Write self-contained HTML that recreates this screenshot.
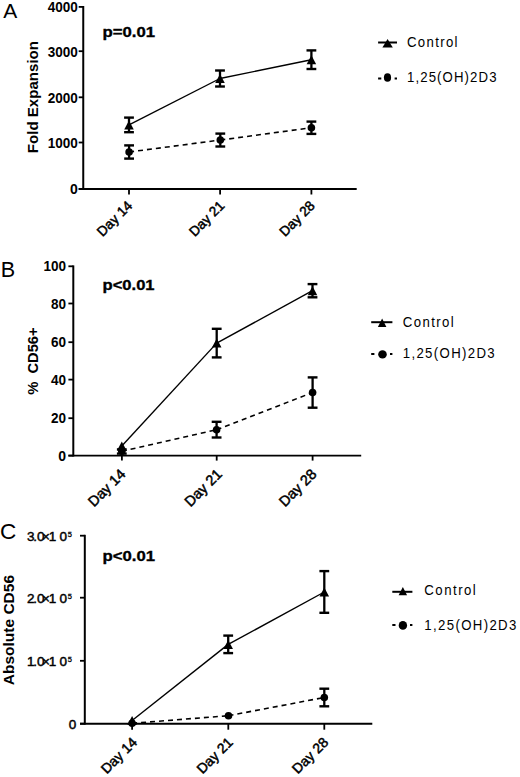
<!DOCTYPE html>
<html><head><meta charset="utf-8"><title>Figure</title>
<style>
html,body{margin:0;padding:0;background:#fff;}
svg{display:block;}
text{font-family:"Liberation Sans", sans-serif;fill:#000;}
</style></head>
<body>
<svg width="520" height="777" viewBox="0 0 520 777">
<rect width="520" height="777" fill="#fff"/>
<text x="3.2" y="17.6" font-size="21">A</text>
<line x1="83.25" y1="6" x2="83.25" y2="189.9" stroke="#000" stroke-width="2.0"/>
<line x1="78.7" y1="189" x2="356.7" y2="189" stroke="#000" stroke-width="1.9"/>
<line x1="78.7" y1="6.9" x2="83.25" y2="6.9" stroke="#000" stroke-width="1.8"/>
<text x="77.8" y="12.3" font-size="14" font-weight="bold" text-anchor="end" textLength="30.12" lengthAdjust="spacingAndGlyphs">4000</text>
<line x1="78.7" y1="51.2" x2="83.25" y2="51.2" stroke="#000" stroke-width="1.8"/>
<text x="77.8" y="57" font-size="14" font-weight="bold" text-anchor="end" textLength="30.12" lengthAdjust="spacingAndGlyphs">3000</text>
<line x1="78.7" y1="97.3" x2="83.25" y2="97.3" stroke="#000" stroke-width="1.8"/>
<text x="77.8" y="103.1" font-size="14" font-weight="bold" text-anchor="end" textLength="30.12" lengthAdjust="spacingAndGlyphs">2000</text>
<line x1="78.7" y1="142.5" x2="83.25" y2="142.5" stroke="#000" stroke-width="1.8"/>
<text x="77.8" y="147.6" font-size="14" font-weight="bold" text-anchor="end" textLength="30.12" lengthAdjust="spacingAndGlyphs">1000</text>
<line x1="78.7" y1="189" x2="83.25" y2="189" stroke="#000" stroke-width="1.8"/>
<text x="77.8" y="194.1" font-size="14" font-weight="bold" text-anchor="end">0</text>
<line x1="129" y1="189" x2="129" y2="194.5" stroke="#000" stroke-width="1.8"/>
<text x="133.2" y="206.5" font-size="13.7" text-anchor="end" transform="rotate(-45 133.2 206.5)" stroke="#000" stroke-width="0.5">Day 14</text>
<line x1="220.1" y1="189" x2="220.1" y2="194.5" stroke="#000" stroke-width="1.8"/>
<text x="225.4" y="206.5" font-size="13.7" text-anchor="end" transform="rotate(-45 225.4 206.5)" stroke="#000" stroke-width="0.5">Day 21</text>
<line x1="311.4" y1="189" x2="311.4" y2="194.5" stroke="#000" stroke-width="1.8"/>
<text x="315.7" y="206.5" font-size="13.7" text-anchor="end" transform="rotate(-45 315.7 206.5)" stroke="#000" stroke-width="0.5">Day 28</text>
<text x="37.9" y="97.1" font-size="14.5" font-weight="bold" text-anchor="middle" textLength="112.2" lengthAdjust="spacingAndGlyphs" transform="rotate(-90 37.9 97.1)">Fold Expansion</text>
<text x="102.6" y="36.5" font-size="15.3" font-weight="bold" textLength="52.5" lengthAdjust="spacingAndGlyphs" stroke="#000" stroke-width="0.35">p=0.01</text>
<line x1="129" y1="124.9" x2="220" y2="78.5" stroke="#000" stroke-width="1.4"/>
<line x1="220" y1="78.5" x2="311.4" y2="59.7" stroke="#000" stroke-width="1.4"/>
<line x1="129.1" y1="152" x2="220.3" y2="140.05" stroke="#000" stroke-width="1.6" stroke-dasharray="5 4"/>
<line x1="220.3" y1="140.05" x2="311.4" y2="127.75" stroke="#000" stroke-width="1.6" stroke-dasharray="5 4"/>
<line x1="129" y1="117.6" x2="129" y2="132.2" stroke="#000" stroke-width="2.3"/>
<line x1="124.1" y1="117.6" x2="133.9" y2="117.6" stroke="#000" stroke-width="2.4"/>
<line x1="124.1" y1="132.2" x2="133.9" y2="132.2" stroke="#000" stroke-width="2.4"/>
<line x1="220" y1="70.5" x2="220" y2="86.5" stroke="#000" stroke-width="2.3"/>
<line x1="215.1" y1="70.5" x2="224.9" y2="70.5" stroke="#000" stroke-width="2.4"/>
<line x1="215.1" y1="86.5" x2="224.9" y2="86.5" stroke="#000" stroke-width="2.4"/>
<line x1="311.4" y1="50.4" x2="311.4" y2="69" stroke="#000" stroke-width="2.3"/>
<line x1="306.5" y1="50.4" x2="316.3" y2="50.4" stroke="#000" stroke-width="2.4"/>
<line x1="306.5" y1="69" x2="316.3" y2="69" stroke="#000" stroke-width="2.4"/>
<line x1="129.1" y1="145.4" x2="129.1" y2="158.6" stroke="#000" stroke-width="2.3"/>
<line x1="124.2" y1="145.4" x2="134" y2="145.4" stroke="#000" stroke-width="2.4"/>
<line x1="124.2" y1="158.6" x2="134" y2="158.6" stroke="#000" stroke-width="2.4"/>
<line x1="220.3" y1="133.6" x2="220.3" y2="146.5" stroke="#000" stroke-width="2.3"/>
<line x1="215.4" y1="133.6" x2="225.2" y2="133.6" stroke="#000" stroke-width="2.4"/>
<line x1="215.4" y1="146.5" x2="225.2" y2="146.5" stroke="#000" stroke-width="2.4"/>
<line x1="311.4" y1="121.6" x2="311.4" y2="133.9" stroke="#000" stroke-width="2.3"/>
<line x1="306.5" y1="121.6" x2="316.3" y2="121.6" stroke="#000" stroke-width="2.4"/>
<line x1="306.5" y1="133.9" x2="316.3" y2="133.9" stroke="#000" stroke-width="2.4"/>
<polygon points="129,120.4 124.25,129.4 133.75,129.4" fill="#000"/>
<polygon points="220,74 215.25,83 224.75,83" fill="#000"/>
<polygon points="311.4,55.2 306.65,64.2 316.15,64.2" fill="#000"/>
<ellipse cx="129.1" cy="152" rx="3.8" ry="3.8" fill="#000"/>
<ellipse cx="220.3" cy="140.05" rx="3.8" ry="3.8" fill="#000"/>
<ellipse cx="311.4" cy="127.75" rx="3.8" ry="3.8" fill="#000"/>
<line x1="378.1" y1="42.5" x2="397" y2="42.5" stroke="#000" stroke-width="2"/>
<polygon points="387.6,39.1 382.4,47.6 392.8,47.6" fill="#000"/>
<line x1="378.1" y1="78.5" x2="381.3" y2="78.5" stroke="#000" stroke-width="2"/>
<line x1="394.6" y1="78.5" x2="397" y2="78.5" stroke="#000" stroke-width="2"/>
<ellipse cx="387.5" cy="77.5" rx="3.6" ry="4.3" fill="#000"/>
<text x="0" y="0" font-size="15" textLength="57.39" lengthAdjust="spacing" transform="translate(407.0 47.4) scale(0.88 1)">Control</text>
<text x="0" y="0" font-size="15" textLength="101.70" lengthAdjust="spacing" transform="translate(407.0 81.5) scale(0.88 1)">1,25(OH)2D3</text>
<text x="0.7" y="277.3" font-size="21.6">B</text>
<line x1="73.3" y1="265.4" x2="73.3" y2="456.5" stroke="#000" stroke-width="2.0"/>
<line x1="68.4" y1="455.6" x2="361.2" y2="455.6" stroke="#000" stroke-width="1.9"/>
<line x1="68.4" y1="266.3" x2="73.3" y2="266.3" stroke="#000" stroke-width="1.8"/>
<text x="66" y="271.4" font-size="14" font-weight="bold" text-anchor="end" textLength="22.59" lengthAdjust="spacingAndGlyphs">100</text>
<line x1="68.4" y1="303.5" x2="73.3" y2="303.5" stroke="#000" stroke-width="1.8"/>
<text x="66" y="308.6" font-size="14" font-weight="bold" text-anchor="end" textLength="15.06" lengthAdjust="spacingAndGlyphs">80</text>
<line x1="68.4" y1="342.2" x2="73.3" y2="342.2" stroke="#000" stroke-width="1.8"/>
<text x="66" y="347.3" font-size="14" font-weight="bold" text-anchor="end" textLength="15.06" lengthAdjust="spacingAndGlyphs">60</text>
<line x1="68.4" y1="379.6" x2="73.3" y2="379.6" stroke="#000" stroke-width="1.8"/>
<text x="66" y="384.7" font-size="14" font-weight="bold" text-anchor="end" textLength="15.06" lengthAdjust="spacingAndGlyphs">40</text>
<line x1="68.4" y1="418.2" x2="73.3" y2="418.2" stroke="#000" stroke-width="1.8"/>
<text x="66" y="423.3" font-size="14" font-weight="bold" text-anchor="end" textLength="15.06" lengthAdjust="spacingAndGlyphs">20</text>
<line x1="68.4" y1="455.6" x2="73.3" y2="455.6" stroke="#000" stroke-width="1.8"/>
<text x="66" y="460.7" font-size="14" font-weight="bold" text-anchor="end">0</text>
<line x1="121.9" y1="455.6" x2="121.9" y2="460.6" stroke="#000" stroke-width="1.8"/>
<text x="126.5" y="475" font-size="14.5" text-anchor="end" transform="rotate(-45 126.5 475)" stroke="#000" stroke-width="0.5">Day 14</text>
<line x1="216.7" y1="455.6" x2="216.7" y2="460.6" stroke="#000" stroke-width="1.8"/>
<text x="222.9" y="475" font-size="14.5" text-anchor="end" transform="rotate(-45 222.9 475)" stroke="#000" stroke-width="0.5">Day 21</text>
<line x1="312.6" y1="455.6" x2="312.6" y2="460.6" stroke="#000" stroke-width="1.8"/>
<text x="317.4" y="475" font-size="14.5" text-anchor="end" transform="rotate(-45 317.4 475)" stroke="#000" stroke-width="0.5">Day 28</text>
<text x="37.6" y="361.1" font-size="14.5" font-weight="bold" text-anchor="middle" textLength="67.4" lengthAdjust="spacingAndGlyphs" transform="rotate(-90 37.6 361.1)">%  CD56+</text>
<text x="102.6" y="289.7" font-size="15.3" font-weight="bold" textLength="52" lengthAdjust="spacingAndGlyphs" stroke="#000" stroke-width="0.35">p&lt;0.01</text>
<line x1="121.8" y1="446" x2="216.7" y2="343.1" stroke="#000" stroke-width="1.4"/>
<line x1="216.7" y1="343.1" x2="312.5" y2="290.7" stroke="#000" stroke-width="1.4"/>
<line x1="121.8" y1="451.3" x2="216.6" y2="429.7" stroke="#000" stroke-width="1.6" stroke-dasharray="5 4"/>
<line x1="216.6" y1="429.7" x2="312.6" y2="392.5" stroke="#000" stroke-width="1.6" stroke-dasharray="5 4"/>
<line x1="216.7" y1="328.8" x2="216.7" y2="357.4" stroke="#000" stroke-width="2.3"/>
<line x1="211.8" y1="328.8" x2="221.6" y2="328.8" stroke="#000" stroke-width="2.4"/>
<line x1="211.8" y1="357.4" x2="221.6" y2="357.4" stroke="#000" stroke-width="2.4"/>
<line x1="312.5" y1="284.1" x2="312.5" y2="297.3" stroke="#000" stroke-width="2.3"/>
<line x1="307.6" y1="284.1" x2="317.4" y2="284.1" stroke="#000" stroke-width="2.4"/>
<line x1="307.6" y1="297.3" x2="317.4" y2="297.3" stroke="#000" stroke-width="2.4"/>
<line x1="121.8" y1="449.4" x2="121.8" y2="453.6" stroke="#000" stroke-width="2.3"/>
<line x1="116.9" y1="449.4" x2="126.7" y2="449.4" stroke="#000" stroke-width="2.4"/>
<line x1="116.9" y1="453.6" x2="126.7" y2="453.6" stroke="#000" stroke-width="2.4"/>
<line x1="216.6" y1="421.8" x2="216.6" y2="437.5" stroke="#000" stroke-width="2.3"/>
<line x1="211.7" y1="421.8" x2="221.5" y2="421.8" stroke="#000" stroke-width="2.4"/>
<line x1="211.7" y1="437.5" x2="221.5" y2="437.5" stroke="#000" stroke-width="2.4"/>
<line x1="312.6" y1="377.4" x2="312.6" y2="407.7" stroke="#000" stroke-width="2.3"/>
<line x1="307.7" y1="377.4" x2="317.5" y2="377.4" stroke="#000" stroke-width="2.4"/>
<line x1="307.7" y1="407.7" x2="317.5" y2="407.7" stroke="#000" stroke-width="2.4"/>
<polygon points="121.8,441.5 117.05,450.5 126.55,450.5" fill="#000"/>
<polygon points="216.7,338.6 211.95,347.6 221.45,347.6" fill="#000"/>
<polygon points="312.5,286.2 307.75,295.2 317.25,295.2" fill="#000"/>
<ellipse cx="121.8" cy="451.3" rx="3.8" ry="3.8" fill="#000"/>
<ellipse cx="216.6" cy="429.7" rx="3.8" ry="3.8" fill="#000"/>
<ellipse cx="312.6" cy="392.5" rx="3.8" ry="3.8" fill="#000"/>
<line x1="371.2" y1="322.2" x2="392.4" y2="322.2" stroke="#000" stroke-width="2"/>
<polygon points="382.1,318.5 377.85,327 386.35,327" fill="#000"/>
<line x1="371.2" y1="354" x2="374.4" y2="354" stroke="#000" stroke-width="2"/>
<line x1="390" y1="354" x2="392.4" y2="354" stroke="#000" stroke-width="2"/>
<ellipse cx="382.5" cy="354.4" rx="4.3" ry="4.2" fill="#000"/>
<text x="0" y="0" font-size="15" textLength="57.95" lengthAdjust="spacing" transform="translate(402.7 326.8) scale(0.88 1)">Control</text>
<text x="0" y="0" font-size="15" textLength="104.55" lengthAdjust="spacing" transform="translate(402.7 358.0) scale(0.88 1)">1,25(OH)2D3</text>
<text x="0" y="538.6" font-size="22.6">C</text>
<line x1="84.8" y1="534.8" x2="84.8" y2="724.6" stroke="#000" stroke-width="2.0"/>
<line x1="80" y1="723.7" x2="372.3" y2="723.7" stroke="#000" stroke-width="1.9"/>
<line x1="80" y1="535.7" x2="84.8" y2="535.7" stroke="#000" stroke-width="1.8"/>
<text x="27.0 33.3 37.0 42.1 48.7 59.4" y="540.6" font-size="13.5" stroke="#000" stroke-width="0.45">3.0×10</text>
<text x="67.7" y="536.6" font-size="7.5" stroke="#000" stroke-width="0.3">5</text>
<line x1="80" y1="597.7" x2="84.8" y2="597.7" stroke="#000" stroke-width="1.8"/>
<text x="27.0 33.3 37.0 42.1 48.7 59.4" y="602.6" font-size="13.5" stroke="#000" stroke-width="0.45">2.0×10</text>
<text x="67.7" y="598.6" font-size="7.5" stroke="#000" stroke-width="0.3">5</text>
<line x1="80" y1="660.8" x2="84.8" y2="660.8" stroke="#000" stroke-width="1.8"/>
<text x="27.0 33.3 37.0 42.1 48.7 59.4" y="665.7" font-size="13.5" stroke="#000" stroke-width="0.45">1.0×10</text>
<text x="67.7" y="661.7" font-size="7.5" stroke="#000" stroke-width="0.3">5</text>
<line x1="80" y1="723.7" x2="84.8" y2="723.7" stroke="#000" stroke-width="1.8"/>
<text x="76.2" y="728.6" font-size="13.5" text-anchor="end" stroke="#000" stroke-width="0.45">0</text>
<line x1="132.1" y1="723.7" x2="132.1" y2="729.7" stroke="#000" stroke-width="1.8"/>
<text x="138.1" y="743.2" font-size="14.0" text-anchor="end" transform="rotate(-45 138.1 743.2)" stroke="#000" stroke-width="0.5">Day 14</text>
<line x1="228.3" y1="723.7" x2="228.3" y2="729.7" stroke="#000" stroke-width="1.8"/>
<text x="233.8" y="743.2" font-size="14.0" text-anchor="end" transform="rotate(-45 233.8 743.2)" stroke="#000" stroke-width="0.5">Day 21</text>
<line x1="324.3" y1="723.7" x2="324.3" y2="729.7" stroke="#000" stroke-width="1.8"/>
<text x="329.2" y="743.2" font-size="14.0" text-anchor="end" transform="rotate(-45 329.2 743.2)" stroke="#000" stroke-width="0.5">Day 28</text>
<text x="13.7" y="630.1" font-size="14.5" font-weight="bold" text-anchor="middle" textLength="110.2" lengthAdjust="spacingAndGlyphs" transform="rotate(-90 13.7 630.1)">Absolute CD56</text>
<text x="102.5" y="560.8" font-size="15.3" font-weight="bold" textLength="52.5" lengthAdjust="spacingAndGlyphs" stroke="#000" stroke-width="0.35">p&lt;0.01</text>
<line x1="132.1" y1="720.5" x2="228.2" y2="644.4" stroke="#000" stroke-width="1.4"/>
<line x1="228.2" y1="644.4" x2="324.3" y2="592" stroke="#000" stroke-width="1.4"/>
<line x1="132.1" y1="723.3" x2="228.5" y2="715.7" stroke="#000" stroke-width="1.6" stroke-dasharray="5 4"/>
<line x1="228.5" y1="715.7" x2="324.3" y2="697.5" stroke="#000" stroke-width="1.6" stroke-dasharray="5 4"/>
<line x1="228.2" y1="635.6" x2="228.2" y2="653.1" stroke="#000" stroke-width="2.3"/>
<line x1="223.3" y1="635.6" x2="233.1" y2="635.6" stroke="#000" stroke-width="2.4"/>
<line x1="223.3" y1="653.1" x2="233.1" y2="653.1" stroke="#000" stroke-width="2.4"/>
<line x1="324.3" y1="571.1" x2="324.3" y2="612.8" stroke="#000" stroke-width="2.3"/>
<line x1="319.4" y1="571.1" x2="329.2" y2="571.1" stroke="#000" stroke-width="2.4"/>
<line x1="319.4" y1="612.8" x2="329.2" y2="612.8" stroke="#000" stroke-width="2.4"/>
<line x1="324.3" y1="688.7" x2="324.3" y2="706.3" stroke="#000" stroke-width="2.3"/>
<line x1="319.4" y1="688.7" x2="329.2" y2="688.7" stroke="#000" stroke-width="2.4"/>
<line x1="319.4" y1="706.3" x2="329.2" y2="706.3" stroke="#000" stroke-width="2.4"/>
<polygon points="132.1,716 127.35,725 136.85,725" fill="#000"/>
<polygon points="228.2,639.9 223.45,648.9 232.95,648.9" fill="#000"/>
<polygon points="324.3,587.5 319.55,596.5 329.05,596.5" fill="#000"/>
<ellipse cx="132.1" cy="723.3" rx="3.8" ry="3.8" fill="#000"/>
<ellipse cx="228.5" cy="715.7" rx="3.8" ry="3.8" fill="#000"/>
<ellipse cx="324.3" cy="697.5" rx="3.8" ry="3.8" fill="#000"/>
<line x1="392.3" y1="591.8" x2="412.4" y2="591.8" stroke="#000" stroke-width="2"/>
<polygon points="402.85,587 398.6,595.2 407.1,595.2" fill="#000"/>
<line x1="392.3" y1="625" x2="395.5" y2="625" stroke="#000" stroke-width="2"/>
<line x1="410" y1="625" x2="412.4" y2="625" stroke="#000" stroke-width="2"/>
<ellipse cx="402.9" cy="625.4" rx="4.2" ry="4.4" fill="#000"/>
<text x="0" y="0" font-size="15" textLength="58.52" lengthAdjust="spacing" transform="translate(424.3 595.3) scale(0.88 1)">Control</text>
<text x="0" y="0" font-size="15" textLength="104.55" lengthAdjust="spacing" transform="translate(424.3 629.5) scale(0.88 1)">1,25(OH)2D3</text>
</svg>
</body></html>
